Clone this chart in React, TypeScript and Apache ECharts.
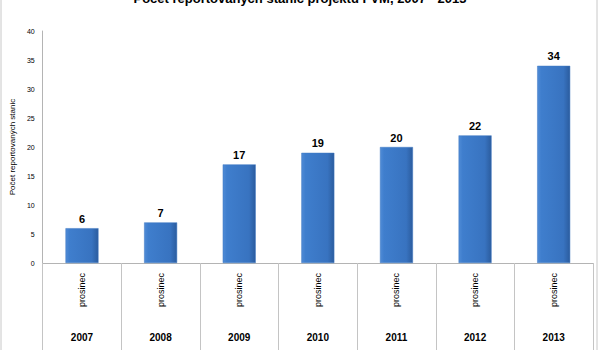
import React, { useEffect, useRef } from "react";
import * as echarts from "echarts";

const months = ["prosinec", "prosinec", "prosinec", "prosinec", "prosinec", "prosinec", "prosinec"];
const years = ["2007", "2008", "2009", "2010", "2011", "2012", "2013"];
const values = [6, 7, 17, 19, 20, 22, 34];
const titleText = "Počet reportovaných stanic projektu FVM, 2007 - 2013";
const yAxisName = "Počet reportovaných stanic";

const FONT = "Liberation Sans";

export default function App() {
  const ref = useRef<HTMLDivElement>(null);
  useEffect(() => {
    if (!ref.current) return;
    const chart = echarts.init(ref.current, undefined, { renderer: "svg" });
    chart.setOption({
      animation: false,
      backgroundColor: "#ffffff",
      textStyle: { fontFamily: FONT },
      graphic: [
        {
          type: "rect",
          shape: { x: 1, y: -2, width: 596, height: 360 },
          style: { fill: "none", stroke: "#c8c8c8", lineWidth: 1 },
          silent: true,
        },
        {
          type: "text",
          x: 300,
          y: -8,
          style: {
            text: titleText,
            fontFamily: FONT,
            fontSize: 13,
            fontWeight: "bold",
            fill: "#000",
            align: "center",
            verticalAlign: "top",
          },
        },
      ],
      grid: { left: 35, right: 7, top: 31, bottom: 87, containLabel: false },
      xAxis: [
        {
          type: "category",
          data: months,
          position: "bottom",
          axisLine: { show: true, lineStyle: { color: "#b4b4b4", width: 1 } },
          axisTick: {
            show: true,
            interval: 0,
            length: 90,
            lineStyle: { color: "#c4c4c4", width: 1 },
          },
          axisLabel: {
            interval: 0,
            rotate: 90,
            margin: 10,
            fontSize: 9,
            color: "#000",
            fontFamily: FONT,
          },
        },
        {
          type: "category",
          data: years,
          position: "bottom",
          axisLine: { show: false },
          axisTick: { show: false },
          axisLabel: {
            interval: 0,
            margin: 69,
            fontSize: 10,
            fontWeight: "bold",
            color: "#000",
            fontFamily: FONT,
          },
        },
      ],
      yAxis: {
        type: "value",
        min: 0,
        max: 40,
        interval: 5,
        name: yAxisName,
        nameLocation: "middle",
        nameRotate: 90,
        nameGap: 25,
        nameTextStyle: { fontSize: 8, color: "#000", fontFamily: FONT },
        axisLine: { show: true, lineStyle: { color: "#b4b4b4", width: 1 } },
        axisTick: { show: false },
        splitLine: { show: false },
        axisLabel: { fontSize: 7, color: "#000", margin: 8, fontFamily: FONT },
      },
      series: [
        {
          type: "bar",
          xAxisIndex: 0,
          data: values,
          barWidth: 33,
          itemStyle: {
            color: new echarts.graphic.LinearGradient(0, 0, 1, 0, [
              { offset: 0, color: "#4f8bd6" },
              { offset: 0.12, color: "#3f7ecd" },
              { offset: 0.8, color: "#3873c0" },
              { offset: 1, color: "#2b5c9e" },
            ]),
            borderColor: "#3f78c2",
            borderWidth: 0.5,
          },
          label: {
            show: true,
            position: "top",
            distance: 4,
            fontSize: 11,
            fontWeight: "bold",
            color: "#000",
            fontFamily: FONT,
          },
        },
      ],
    });
    return () => chart.dispose();
  }, []);
  return (
    <div
      ref={ref}
      style={{ position: "fixed", left: 0, top: 0, width: 600, height: 350 }}
    />
  );
}
